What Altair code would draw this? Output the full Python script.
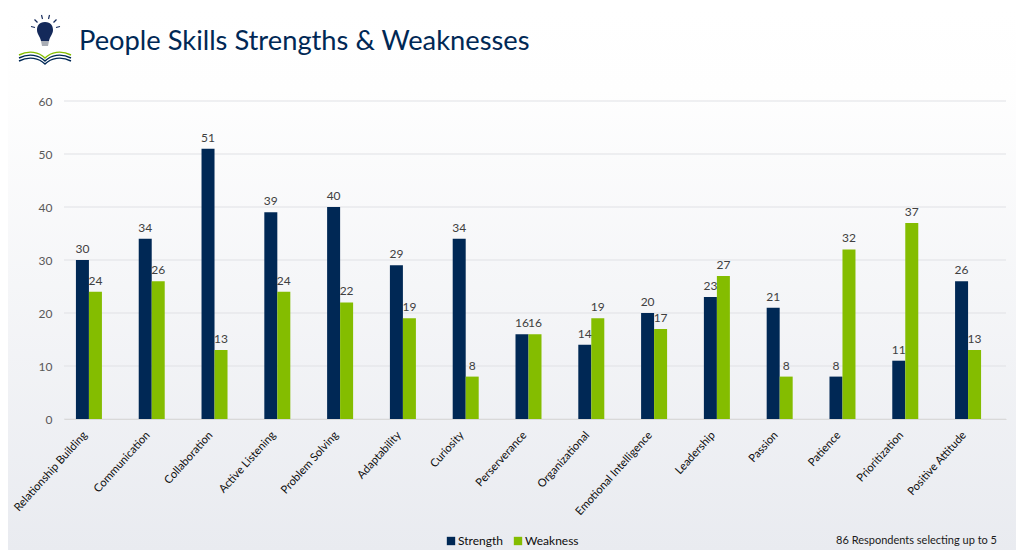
import altair as alt
import pandas as pd

categories = ["Relationship Building", "Communication", "Collaboration", "Active Listening",
              "Problem Solving", "Adaptability", "Curiosity", "Perserverance", "Organizational",
              "Emotional Intelligence", "Leadership", "Passion", "Patience", "Prioritization",
              "Positive Attitude"]
strength = [30, 34, 51, 39, 40, 29, 34, 16, 14, 20, 23, 21, 8, 11, 26]
weakness = [24, 26, 13, 24, 22, 19, 8, 16, 19, 17, 27, 8, 32, 37, 13]
series = ["Strength", "Weakness"]
colors = ["#002855", "#84bd00"]
ticks = [0, 10, 20, 30, 40, 50, 60]
title_text = "People Skills Strengths & Weaknesses"
note_text = "86 Respondents selecting up to 5"

FONT = "Lato"
W, H = 942, 318

df = pd.DataFrame(
    [{"cat": c, "series": "Strength", "v": s} for c, s in zip(categories, strength)]
    + [{"cat": c, "series": "Weakness", "v": w} for c, w in zip(categories, weakness)]
)

x = alt.X("cat:N", sort=categories, title=None,
          scale=alt.Scale(paddingInner=0.379, paddingOuter=0.19),
          axis=alt.Axis(labelAngle=-48, labelAlign="right", labelBaseline="middle", labelColor="#0d0d0d",
                        labelFontSize=11.2, labelFont=FONT, labelPadding=14, labelOffset=-10, zindex=1,
                        ticks=False, domainColor="#d9d9d9", grid=False, labelLimit=200))
xoff = alt.XOffset("series:N", scale=alt.Scale(domain=series + ["_"], paddingInner=0, paddingOuter=0))
y = alt.Y("v:Q", title=None, scale=alt.Scale(domain=[0, 60]),
          axis=alt.Axis(values=ticks, ticks=False, domain=False, zindex=1,
                        labelColor="#595959", labelFontSize=12, labelFont=FONT, labelPadding=12, grid=False))

background = alt.Chart(pd.DataFrame({"a": [0]})).mark_rect(
    color=alt.LinearGradient(gradient="linear", x1=0, x2=0, y1=0, y2=1,
                             stops=[alt.GradientStop(offset=0, color="#ffffff"),
                                    alt.GradientStop(offset=0.15, color="#fefefe"),
                                    alt.GradientStop(offset=1, color="#e9ebf0")])
).encode(x=alt.value(-56), x2=alt.value(W + 10), y=alt.value(-93), y2=alt.value(H + 131))

grid = alt.Chart(pd.DataFrame({"v": ticks})).mark_rule(color="#e0e1e5", strokeWidth=1).encode(
    y=alt.Y("v:Q", title=None, scale=alt.Scale(domain=[0, 60]))
)

bars = alt.Chart(df).mark_bar().encode(
    x=x, xOffset=xoff, y=y,
    color=alt.Color("series:N", scale=alt.Scale(domain=series, range=colors),
                    legend=alt.Legend(title=None, orient="none", direction="horizontal", legendX=381, legendY=434,
                                      symbolType="square", symbolSize=70, labelFontSize=12, labelFont=FONT,
                                      labelOffset=1, labelColor="#0d0d0d", columnPadding=9, symbolStrokeWidth=0)),
)
labels = alt.Chart(df).mark_text(dy=-11, fontSize=12, font=FONT, color="#404040").encode(
    x=x, xOffset=xoff, y=y, text="v:Q"
)

def txt(t, px, py, **kw):
    return alt.Chart(pd.DataFrame({"a": [0]})).mark_text(text=t, font=FONT, **kw).encode(
        x=alt.value(px - 64), y=alt.value(py - 101))

title = txt(title_text, 79, 50, fontSize=27.3, color="#002855", align="left", baseline="alphabetic")
note = txt(note_text, 997, 541, fontSize=11, color="#1a1a1a", align="right", baseline="middle")

def icon(path, px, py, **kw):
    return alt.Chart(pd.DataFrame({"a": [0]})).mark_point(shape=path, size=4, opacity=1, **kw).encode(
        x=alt.value(px - 64), y=alt.value(py - 101))

bulb = "M0,-10 C6,-10 8,-6 8,-2 C8,2 5,4 4,9 L-4,9 C-5,4 -8,2 -8,-2 C-8,-6 -6,-10 0,-10 Z"
book = "M-26,3 C-16,-2 -6,0 0,6 C6,0 16,-2 26,3"
logo = [
    icon(bulb, 45, 32, filled=True, color="#14295a"),
    icon("M-4,0 L4,0 L3,5 L-3,5 Z", 45, 41, filled=True, color="#a9adb5"),
    icon(book, 45, 52, filled=False, color="#84bd00", strokeWidth=1.4),
    icon(book, 45, 55, filled=False, color="#002855", strokeWidth=1.4),
    icon(book, 45, 58, filled=False, color="#002855", strokeWidth=1.4),
]
ray_points = [(33, 27, "M-2,-0.5 L2,0.5"), (36, 21, "M-1.5,-1.5 L1.5,1.5"), (42, 17, "M-0.5,-2 L0.5,2"),
              (49, 17, "M0.5,-2 L-0.5,2"), (55, 21, "M1.5,-1.5 L-1.5,1.5"), (58, 27, "M2,-0.5 L-2,0.5")]
rays = [icon(p, a, b, filled=False, color="#14295a", strokeWidth=1.2) for a, b, p in ray_points]

chart = alt.layer(background, grid, bars, labels, title, note, *logo, *rays).properties(
    width=W, height=H,
    padding={"left": 56, "top": 93, "right": 10, "bottom": 131},
    autosize=alt.AutoSizeParams(type="none"),
).configure_view(stroke=None)

chart.save("out.html", embed_options={"renderer": "svg", "actions": False})
